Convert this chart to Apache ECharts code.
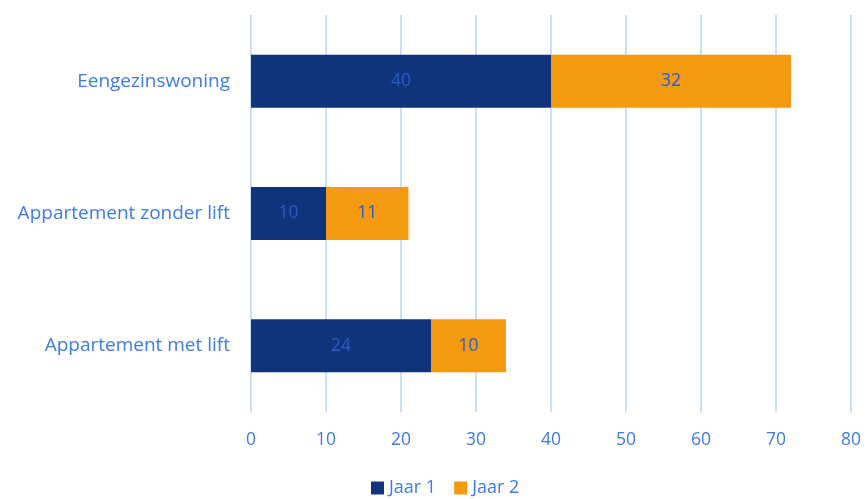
<!DOCTYPE html>
<html>
<head>
<meta charset="utf-8">
<script src="https://cdn.jsdelivr.net/npm/echarts@6/dist/echarts.min.js"></script>
<style>
  html, body { margin: 0; padding: 0; background: #fff; }
  #chart { width: 866px; height: 499px; }
</style>
</head>
<body>
<div id="chart"></div>
<script>
// Woningtypes (van onder naar boven op de y-as)
const categories = ['Appartement met lift', 'Appartement zonder lift', 'Eengezinswoning'];
const jaar1 = [24, 10, 40];
const jaar2 = [10, 11, 32];
const seriesNames = ['Jaar 1', 'Jaar 2'];

const textBlue = '#3D7BE6';
const labelBlue = '#2E5BC4';
const font = '"Open Sans", sans-serif';

const chart = echarts.init(document.getElementById('chart'));
chart.setOption({
  animation: false,
  grid: { left: 251, right: 15, top: 15, bottom: 87 },
  legend: {
    data: seriesNames,
    left: 366,
    bottom: -3,
    itemWidth: 13,
    itemHeight: 13,
    itemGap: 18,
    icon: 'rect',
    textStyle: { color: textBlue, fontSize: 18, fontFamily: font }
  },
  xAxis: {
    type: 'value',
    min: 0,
    max: 80,
    interval: 10,
    axisLine: { show: false },
    axisTick: { show: false },
    axisLabel: { color: textBlue, fontSize: 17.5, fontFamily: font, margin: 19 },
    splitLine: { lineStyle: { color: '#D0DDF7', width: 2 } }
  },
  yAxis: {
    type: 'category',
    data: categories,
    axisLine: { show: false },
    axisTick: { show: false },
    axisLabel: { color: textBlue, fontSize: 19, fontFamily: font, margin: 21, padding: [4, 0, 0, 0] }
  },
  series: [
    {
      name: seriesNames[0],
      type: 'bar',
      stack: 'totaal',
      data: jaar1,
      barWidth: '40%',
      itemStyle: { color: '#10347B' },
      label: { show: true, position: 'inside', color: labelBlue, fontSize: 17.5, fontFamily: font, padding: [3, 0, 0, 0] }
    },
    {
      name: seriesNames[1],
      type: 'bar',
      stack: 'totaal',
      data: jaar2,
      barWidth: '40%',
      itemStyle: { color: '#F39A10' },
      label: { show: true, position: 'inside', color: labelBlue, fontSize: 17.5, fontFamily: font, padding: [3, 0, 0, 0] }
    }
  ]
});
</script>
</body>
</html>
